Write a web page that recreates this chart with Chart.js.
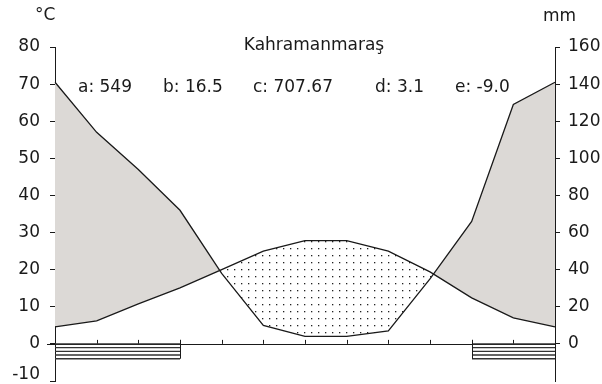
<!DOCTYPE html>
<html>
<head>
<meta charset="utf-8">
<script src="https://cdn.jsdelivr.net/npm/chart.js@4"></script>
<style>
html, body { margin: 0; padding: 0; background: #fff; }
#wrap { width: 602px; height: 384px; }
</style>
</head>
<body>
<div id="wrap"><canvas id="climateChart"></canvas></div>
<script>
// Kahramanmaraş climate diagram (Walter-Lieth style)
const months = ['Oca', 'Şub', 'Mar', 'Nis', 'May', 'Haz', 'Tem', 'Ağu', 'Eyl', 'Eki', 'Kas', 'Ara', 'Oca'];
const temperature = [4.6, 6.2, 10.8, 15.1, 20.0, 25.0, 27.8, 27.8, 25.0, 19.4, 12.4, 7.0, 4.6];
const precipitation = [141, 114, 94, 72, 38, 10, 4, 4, 7, 35, 66, 129, 141];
const tempTicks = [-10, 0, 10, 20, 30, 40, 50, 60, 70, 80];
const rainTicks = [0, 20, 40, 60, 80, 100, 120, 140, 160];
const frostSpans = [[0, 3], [10, 12]];
const frostDepth = -4;
const stationName = 'Kahramanmaraş';
const statKeys = ['a', 'b', 'c', 'd', 'e'];
const statValues = ['549', '16.5', '707.67', '3.1', '-9.0'];

const FONT = '"DejaVu Sans", sans-serif';
const INK = '#1a1a1a';

// dotted pattern for the arid period
function dotPattern() {
    const c = document.createElement('canvas');
    c.width = 7;
    c.height = 7;
    const g = c.getContext('2d');
    g.fillStyle = '#222';
    g.fillRect(3, 3, 1.3, 1.3);
    return g.createPattern(c, 'repeat');
}

const extras = {
    id: 'climateExtras',
    afterDraw(chart) {
        const ctx = chart.ctx;
        const area = chart.chartArea;
        const x = chart.scales.x;
        const y = chart.scales.y;
        const y0 = y.getPixelForValue(0);

        ctx.save();
        ctx.strokeStyle = INK;
        ctx.lineWidth = 1;

        // zero line with small upward ticks
        ctx.beginPath();
        ctx.moveTo(area.left - 8, Math.round(y0) + 0.5);
        ctx.lineTo(area.right, Math.round(y0) + 0.5);
        for (let i = 1; i < months.length - 1; i++) {
            const px = Math.round(x.getPixelForValue(i)) + 0.5;
            ctx.moveTo(px, y0 - 4);
            ctx.lineTo(px, y0);
        }
        ctx.stroke();

        // frost bars
        const yb = y.getPixelForValue(frostDepth);
        frostSpans.forEach(function(span) {
            const xa = Math.round(x.getPixelForValue(span[0]));
            const xb = Math.round(x.getPixelForValue(span[1]));
            ctx.strokeStyle = '#333';
            ctx.lineWidth = 1.3;
            ctx.beginPath();
            for (let k = 0; k < 5; k++) {
                const ly = y0 + (yb - y0) * k / 4;
                ctx.moveTo(xa, ly);
                ctx.lineTo(xb, ly);
            }
            ctx.stroke();
            ctx.lineWidth = 1;
            ctx.strokeStyle = INK;
            ctx.beginPath();
            if (span[0] > 0) {
                ctx.moveTo(xa + 0.5, y0 - 4);
                ctx.lineTo(xa + 0.5, yb);
            }
            if (span[1] < months.length - 1) {
                ctx.moveTo(xb + 0.5, y0 - 4);
                ctx.lineTo(xb + 0.5, yb);
            }
            ctx.stroke();
        });

        // texts
        ctx.fillStyle = INK;
        ctx.font = '17px ' + FONT;
        ctx.textBaseline = 'middle';

        // lowest tick label, nudged up so it stays inside the canvas
        const low = tempTicks[0];
        ctx.textAlign = 'right';
        ctx.fillText(String(low), area.left - 15, Math.min(y.getPixelForValue(low), chart.height - 9));

        ctx.textAlign = 'left';
        ctx.fillText('°C', 35, 16);
        ctx.fillText('mm', 543, 17);
        ctx.textAlign = 'center';
        ctx.fillText(stationName, 314, 46);
        ctx.textAlign = 'left';
        const offsets = [23, 108, 198, 320, 400];
        statKeys.forEach(function(k, i) {
            ctx.fillText(k + ': ' + statValues[i], area.left + offsets[i], 88);
        });
        ctx.restore();
    }
};

const gray = '#dcd9d6';

new Chart(document.getElementById('climateChart'), {
    type: 'line',
    data: {
        labels: months,
        datasets: [{
            label: 'Sıcaklık',
            data: temperature,
            yAxisID: 'y',
            borderColor: INK,
            borderWidth: 1.3,
            pointRadius: 0,
            tension: 0,
            fill: false
        }, {
            label: 'Yağış',
            data: precipitation,
            yAxisID: 'y2',
            borderColor: INK,
            borderWidth: 1.3,
            pointRadius: 0,
            tension: 0,
            fill: {
                target: 0,
                above: gray,
                below: dotPattern()
            }
        }]
    },
    options: {
        responsive: true,
        maintainAspectRatio: false,
        animation: false,
        layout: { padding: { top: 47, bottom: 3, left: 0, right: 0 } },
        plugins: {
            legend: { display: false },
            tooltip: { enabled: false },
            filler: { drawTime: 'beforeDatasetsDraw' }
        },
        scales: {
            x: {
                display: false,
                offset: false
            },
            y: {
                position: 'left',
                min: -10,
                max: 80,
                afterBuildTicks: function(scale) {
                    scale.ticks = tempTicks.map(function(v) { return { value: v }; });
                },
                afterFit: function(scale) {
                    scale.width = 55;
                    scale.paddingTop = 0;
                    scale.paddingBottom = 0;
                },
                grid: { drawOnChartArea: false, tickLength: 5, color: INK },
                border: { display: true, color: INK, width: 1 },
                ticks: {
                    color: INK,
                    padding: 10,
                    font: { family: FONT, size: 17 },
                    callback: function(v) { return v === tempTicks[0] ? '' : v; }
                }
            },
            y2: {
                position: 'right',
                min: -20,
                max: 160,
                afterBuildTicks: function(scale) {
                    scale.ticks = rainTicks.map(function(v) { return { value: v }; });
                },
                afterFit: function(scale) {
                    scale.width = 47;
                    scale.paddingTop = 0;
                    scale.paddingBottom = 0;
                },
                grid: { drawOnChartArea: false, tickLength: 5, color: INK },
                border: { display: true, color: INK, width: 1 },
                ticks: { color: INK, padding: 8, font: { family: FONT, size: 17 } }
            }
        }
    },
    plugins: [extras]
});
</script>
</body>
</html>
